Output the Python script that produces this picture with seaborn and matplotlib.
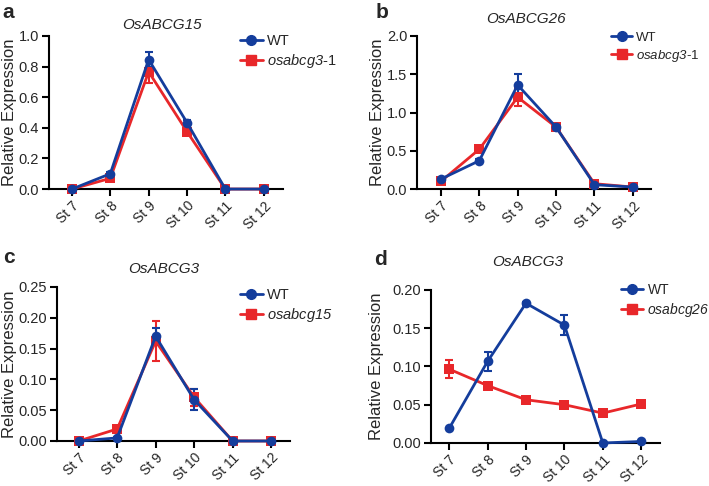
import matplotlib
matplotlib.use("Agg")
import matplotlib.pyplot as plt
import seaborn as sns
import numpy as np
import pandas as pd

sns.set_style("ticks")
plt.rcParams['font.family'] = ['Liberation Sans', 'DejaVu Sans']
# only the mutant names use mathtext, and they are all italic (digits too)
plt.rcParams['mathtext.fontset'] = 'custom'
plt.rcParams['mathtext.rm'] = 'Liberation Sans:italic'
plt.rcParams['mathtext.it'] = 'Liberation Sans:italic'

stages = ['St 7', 'St 8', 'St 9', 'St 10', 'St 11', 'St 12']

# panel a - OsABCG15
a_wt = [0.0, 0.10, 0.846, 0.434, 0.0, 0.0]
a_wt_err = [0.0, 0.01, 0.05, 0.02, 0.0, 0.0]
a_mut = [0.0, 0.07, 0.766, 0.375, 0.0, 0.0]
a_mut_err = [0.0, 0.01, 0.075, 0.015, 0.0, 0.0]

# panel b - OsABCG26
b_wt = [0.13, 0.37, 1.36, 0.81, 0.057, 0.026]
b_wt_err = [0.02, 0.02, 0.14, 0.03, 0.01, 0.01]
b_mut = [0.10, 0.52, 1.20, 0.81, 0.07, 0.026]
b_mut_err = [0.02, 0.03, 0.12, 0.03, 0.01, 0.01]

# panel c - OsABCG3 in osabcg15
c_wt = [0.0, 0.005, 0.170, 0.067, 0.0, 0.0]
c_wt_err = [0.0, 0.001, 0.014, 0.017, 0.0, 0.0]
c_mut = [0.0, 0.0195, 0.162, 0.071, 0.0, 0.0]
c_mut_err = [0.0, 0.002, 0.032, 0.014, 0.0, 0.0]

# panel d - OsABCG3 in osabcg26
d_wt = [0.019, 0.1065, 0.1826, 0.154, 0.0, 0.002]
d_wt_err = [0.001, 0.013, 0.002, 0.013, 0.0, 0.001]
d_mut = [0.0965, 0.075, 0.0565, 0.050, 0.039, 0.051]
d_mut_err = [0.012, 0.003, 0.003, 0.003, 0.003, 0.003]

blue = '#143d9c'
red = '#e8272a'

fig = plt.figure(figsize=(7.09, 4.86), dpi=100)

# letter, gene, mutant, suffix, data..., axes rect, xlim, ylim, yticks, fmt,
# legend anchor, legend size, title pos, letter pos, ylabel x
panels = [
    ('a', 'OsABCG15', 'osabcg3', '-1', a_wt, a_wt_err, a_mut, a_mut_err,
     [0.069, 0.611, 0.330, 0.315], (-0.6, 5.5), (0, 1.0), np.arange(0, 1.01, 0.2), '%.1f',
     (0.338, 0.93), 10.5, (0.228, 0.949), (0.004, 0.963), -0.135),
    ('b', 'OsABCG26', 'osabcg3', '-1', b_wt, b_wt_err, b_mut, b_mut_err,
     [0.588, 0.611, 0.330, 0.315], (-0.625, 5.47), (0, 2.0), np.arange(0, 2.01, 0.5), '%.1f',
     (0.862, 0.935), 9.5, (0.742, 0.961), (0.530, 0.963), -0.135),
    ('c', 'OsABCG3', 'osabcg15', '', c_wt, c_wt_err, c_mut, c_mut_err,
     [0.080, 0.0926, 0.329, 0.317], (-0.57, 5.49), (0, 0.25), np.arange(0, 0.251, 0.05), '%.2f',
     (0.338, 0.408), 10.5, (0.231, 0.447), (0.004, 0.459), -0.17),
    ('d', 'OsABCG3', 'osabcg26', '', d_wt, d_wt_err, d_mut, d_mut_err,
     [0.608, 0.0885, 0.323, 0.315], (-0.47, 5.49), (0, 0.20), np.arange(0, 0.201, 0.05), '%.2f',
     (0.876, 0.418), 10, (0.745, 0.461), (0.527, 0.455), -0.205),
]

x = np.arange(len(stages))
for (letter, gene, mut, suffix, wt, wt_e, mu, mu_e, pos, xl, yl, yt, fmt,
     leg, legsize, tpos, lpos, ylx) in panels:
    ax = fig.add_axes(pos)
    df = pd.DataFrame({'x': np.concatenate([x, x]),
                       'y': wt + mu,
                       'line': ['WT'] * 6 + ['mut'] * 6})
    ax.errorbar(x, mu, yerr=mu_e, fmt='none', ecolor=red, elinewidth=1.5,
                capsize=3, capthick=1.5, zorder=2)
    ax.errorbar(x, wt, yerr=wt_e, fmt='none', ecolor=blue, elinewidth=1.5,
                capsize=3, capthick=1.5, zorder=3)
    sns.lineplot(data=df, x='x', y='y', hue='line', style='line',
                 palette={'WT': blue, 'mut': red}, markers={'WT': 'o', 'mut': 's'},
                 dashes=False, markersize=7, markeredgewidth=0, linewidth=2,
                 hue_order=['mut', 'WT'], ax=ax, legend=False, zorder=4, clip_on=False)
    ax.set_xlim(*xl)
    ax.set_ylim(*yl)
    ax.set_yticks(yt)
    ax.set_yticklabels([fmt % v for v in yt], fontsize=10.5)
    ax.set_xticks(x)
    ax.set_xticklabels(stages, rotation=45, ha='right', rotation_mode='anchor', fontsize=10)
    ax.set_xlabel('')
    ax.set_ylabel('Relative Expression', fontsize=12)
    ax.yaxis.set_label_coords(ylx, 0.5)
    sns.despine(ax=ax)
    for s in ['left', 'bottom']:
        ax.spines[s].set_linewidth(1.5)
        ax.spines[s].set_color('black')
    ax.tick_params(width=1.5, length=5, color='black', pad=2)

    h1, = ax.plot([], [], color=blue, marker='o', lw=2, ms=7)
    h2, = ax.plot([], [], color=red, marker='s', lw=2, ms=7)
    ax.legend([h1, h2], ['WT', r'$\mathit{%s}$%s' % (mut, suffix)], loc='upper left',
              bbox_to_anchor=leg, bbox_transform=fig.transFigure, frameon=False,
              fontsize=legsize, handlelength=1.6, handletextpad=0.3, labelspacing=0.3,
              borderpad=0, borderaxespad=0)
    fig.text(tpos[0], tpos[1], gene, style='italic', fontsize=11, ha='center', va='center')
    fig.text(lpos[0], lpos[1], letter, fontsize=15, fontweight='bold', va='baseline')

fig.savefig('out.png', dpi=100)
